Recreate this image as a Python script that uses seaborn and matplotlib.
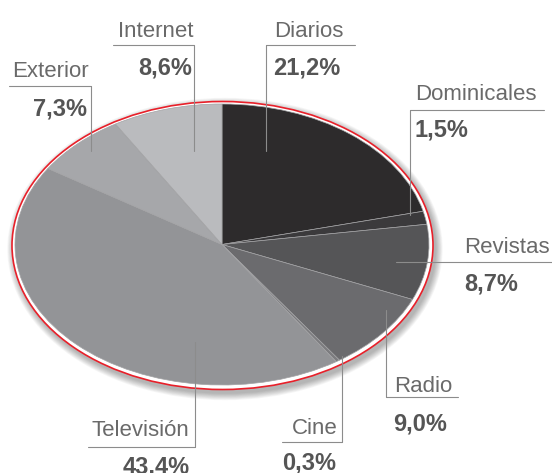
import matplotlib
matplotlib.use("Agg")
import matplotlib.pyplot as plt
from matplotlib.patches import Ellipse
import seaborn as sns

# Data
medios = ['Diarios', 'Dominicales', 'Revistas', 'Radio', 'Cine', 'Televisión', 'Exterior', 'Internet']
porcentajes = [21.2, 1.5, 8.7, 9.0, 0.3, 43.4, 7.3, 8.6]
etiquetas_pct = ['21,2%', '1,5%', '8,7%', '9,0%', '0,3%', '43,4%', '7,3%', '8,6%']
grises = ['#2d2b2c', '#3b3a3c', '#555557', '#6b6b6e', '#7c7c7f', '#939497', '#a6a7aa', '#babbbe']

sns.set_theme(style="white")
plt.rcParams['font.family'] = ['Liberation Sans', 'DejaVu Sans']

W, H = 552, 473
fig = plt.figure(figsize=(W / 100, H / 100), dpi=100)

# background: shadow + red outline (pixel coordinates)
bg = fig.add_axes([0, 0, 1, 1])
bg.set_xlim(0, W)
bg.set_ylim(H, 0)
bg.axis('off')
for k in range(1, 10):
    bg.add_patch(Ellipse((225, 249), 421 + k * 1.6, 288 + k * 1.6,
                         facecolor='black', edgecolor='none', alpha=0.035))
bg.add_patch(Ellipse((222.5, 245.5), 421, 288, facecolor='white',
                     edgecolor='#e8202a', linewidth=1.2))

# the pie itself, stretched into an ellipse
pie_left, pie_right, pie_top, pie_bottom = 15, 429, 104, 385
pax = fig.add_axes([pie_left / W, (H - pie_bottom) / H,
                    (pie_right - pie_left) / W, (pie_bottom - pie_top) / H])
pax.pie(porcentajes, colors=sns.color_palette(grises), startangle=90,
        counterclock=False, radius=1,
        wedgeprops=dict(edgecolor='#a2a2a4', linewidth=0.5))
pax.set_aspect('auto')
pax.set_xlim(-1, 1)
pax.set_ylim(-1, 1)
pax.axis('off')

# labels and leader lines (pixel coordinates)
fg = fig.add_axes([0, 0, 1, 1])
fg.set_xlim(0, W)
fg.set_ylim(H, 0)
fg.axis('off')
fg.patch.set_alpha(0)

linea = dict(color='#8c8c8c', linewidth=0.8)
nombre = dict(fontsize=16, color='#6a6a6a', va='baseline')
valor = dict(fontsize=17, color='#555555', fontweight='bold', va='baseline')

# layout: vertical line x, y0, y1; horizontal line y, x0, x1; text positions
layout = {
    'Internet':    dict(v=(194, 151, 45), h=(45, 113, 194), n=(193, 37, 'right'), p=(192, 75, 'right')),
    'Exterior':    dict(v=(90.5, 151, 86), h=(86, 9, 90.5), n=(89, 77, 'right'), p=(87, 115, 'right')),
    'Diarios':     dict(v=(265.5, 151, 45), h=(45, 265.5, 355), n=(274, 37, 'left'), p=(273, 75, 'left')),
    'Dominicales': dict(v=(410, 215, 110), h=(110, 410, 544), n=(415, 100, 'left'), p=(415, 136, 'left')),
    'Revistas':    dict(v=None, h=(262, 396, 552), n=(464, 253, 'left'), p=(464, 290, 'left')),
    'Radio':       dict(v=(386, 310, 397), h=(397, 386, 458), n=(394, 392, 'left'), p=(393, 430, 'left')),
    'Cine':        dict(v=(342, 356, 442), h=(442, 282, 342), n=(338, 434, 'right'), p=(282, 469, 'left')),
    'Televisión':  dict(v=(194.5, 342, 447), h=(447, 88, 194.5), n=(189, 436, 'right'), p=(190, 473, 'right')),
}

for medio, pct in zip(medios, etiquetas_pct):
    lay = layout[medio]
    if lay['v'] is not None:
        x, y0, y1 = lay['v']
        fg.plot([x, x], [y0, y1], **linea)
    y, x0, x1 = lay['h']
    fg.plot([x0, x1], [y, y], **linea)
    nx, ny, nha = lay['n']
    fg.text(nx, ny, medio, ha=nha, **nombre)
    px, py, pha = lay['p']
    fg.text(px, py, pct, ha=pha, **valor)

plt.savefig('out.png', dpi=100)
